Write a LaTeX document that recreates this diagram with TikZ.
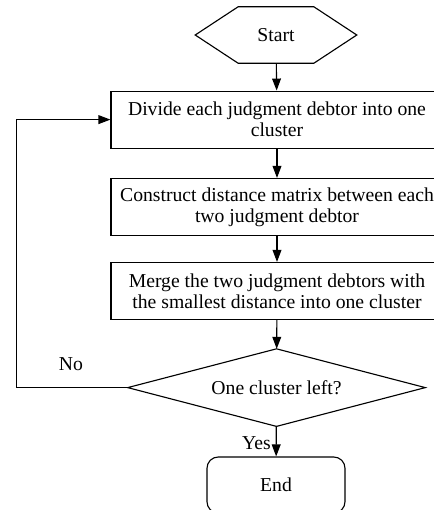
\documentclass[tikz,border=0pt]{standalone}
\usepackage{fontspec}
\setmainfont{Liberation Serif}
\usetikzlibrary{arrows.meta}
\begin{document}
\begin{tikzpicture}
		\tikzstyle{txt} = [font=\fontsize{14}{15}\selectfont]
		\tikzstyle{stepbox} = [rectangle,draw,line width=0.8pt,minimum width=8.3cm,minimum height=1.425cm,align=center,txt]
		\tikzstyle{arr} = [line width=0.8pt,-{Triangle[length=0.3cm,width=0.22cm]}]
		\useasboundingbox (0,0) rectangle (10.85,-12.75);
		\clip (0,0) rectangle (10.85,-12.75);
		\node[minimum width=4.025cm,minimum height=1.4cm,txt] (start) at (6.9,-0.875) {Start};
		\draw[line width=0.8pt] (start.west) -- ([xshift=1.075cm]start.north west) -- ([xshift=-1.075cm]start.north east) -- (start.east) -- ([xshift=-1.075cm]start.south east) -- ([xshift=1.075cm]start.south west) -- cycle;
		\node[stepbox] (divide) at (6.925,-2.99) {Divide each judgment debtor into one\\cluster};
		\node[stepbox] (matrix) at (6.925,-5.175) {Construct distance matrix between each\\two judgment debtor};
		\node[stepbox] (merge) at (6.925,-7.275) {Merge the two judgment debtors with\\the smallest distance into one cluster};
		\node[minimum width=7.425cm,minimum height=1.925cm,inner sep=0pt,txt] (left) at (6.9125,-9.69) {One cluster left?};
		\draw[line width=0.8pt] (left.north) -- (left.east) -- (left.south) -- (left.west) -- cycle;
		\node[rectangle,draw,rounded corners=0.28cm,line width=0.8pt,minimum width=3.45cm,minimum height=1.4cm,txt] (end) at (6.9,-12.125) {End};
		\draw[arr] (start) -- (divide);
		\draw[arr] (divide) -- (matrix);
		\draw[arr] (matrix) -- (merge);
		\draw[arr] (merge) -- (left);
		\draw[arr] (left) -- node[left,pos=0.55,txt,inner sep=3.5pt] {Yes} (end);
		\draw[arr] (left.west) -- ++(-2.775cm,0) |- (divide.west);
		\node[txt] (no) at (1.775,-9.1) {No};
	\end{tikzpicture}
\end{document}
